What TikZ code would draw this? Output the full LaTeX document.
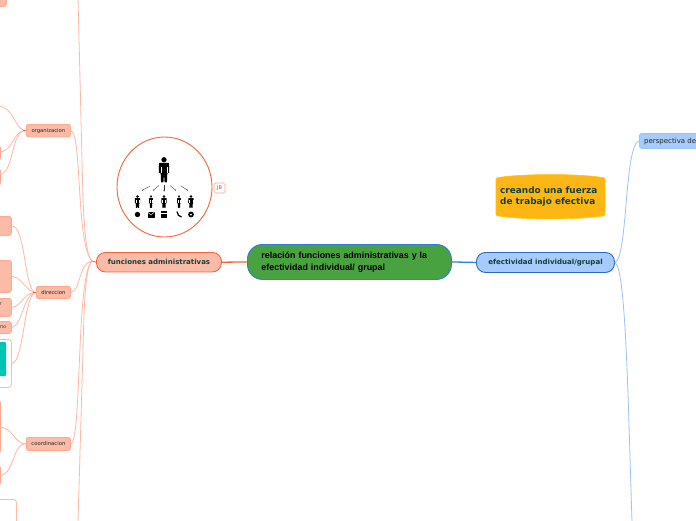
\documentclass[tikz,border=0pt]{standalone}
\usepackage{fontspec}
\usetikzlibrary{arrows.meta,shapes.geometric}
\setmainfont{DejaVu Sans}
\newfontfamily\lib{Liberation Sans}
\definecolor{salL}{HTML}{FFB8A3}
\definecolor{salS}{HTML}{F4643C}
\definecolor{salF}{HTML}{FBBBA7}
\definecolor{salB}{HTML}{FFA88F}
\definecolor{bluL}{HTML}{9CC2F7}
\definecolor{bluS}{HTML}{2F7FDC}
\definecolor{bluF}{HTML}{A6CBFD}
\definecolor{txt}{HTML}{12403A}
\definecolor{ctr}{HTML}{48A23F}
\definecolor{gold}{HTML}{FDB614}
\definecolor{teal}{HTML}{00C4B4}
\newcommand{\myperson}[4]{%
 \begin{scope}[shift={(#1,#2)},xscale=#3*#4,yscale=#3]
  \fill[black] (0,1.4) circle[radius=1.35];
  \fill[black,rounded corners=0.5] (-2.5,3) -- (2.5,3) -- (2.7,8.2) -- (1.7,8.2) -- (1.5,13) -- (0.3,13) -- (0,8.6) -- (-0.3,13) -- (-1.5,13) -- (-1.7,8.2) -- (-2.7,8.2) -- cycle;
  \draw[white,line width=0.25pt] (-1.6,5) -- (-1.6,8.4) (1.6,5) -- (1.6,8.4);
 \end{scope}}
\tikzset{
 x=1pt,y=-1pt,
 conn/.style={draw=salL,line width=0.8pt},
 bconn/.style={draw=bluL,line width=0.8pt},
 subbox/.style={draw=salB,fill=salF,line width=0.8pt,rounded corners=2pt,inner sep=0pt,text=black!85,font=\fontsize{5.3}{6}\selectfont,anchor=north west},
 leaf/.style={draw=salB,fill=salF,line width=0.8pt,rounded corners=2.5pt,inner sep=0pt,anchor=north west},
 whitebox/.style={draw=salL,fill=white,line width=0.8pt,rounded corners=3pt,inner sep=0pt,anchor=north west},
 small arrow/.style={draw=black!80,line width=0.35pt,-{Stealth[length=1.2pt,width=1.2pt]}},
}
\begin{document}
\begin{tikzpicture}
\useasboundingbox (0,0) rectangle (696,520);
\clip (0,0) rectangle (696,520);
\fill[white] (0,0) rectangle (696,520);
% free ends
\coordinate (upEnd) at (78,-2);
\coordinate (downEnd) at (78,522);
\coordinate (fan) at (92,261);
\coordinate (blueEnd) at (632,522);
\coordinate (orgA) at (-2,106);
\coordinate (orgB) at (-2,152);
\coordinate (orgC) at (-2,175);
\coordinate (cooA) at (-2,427);
\coordinate (cooB) at (-2,476);
% main nodes
\node[draw=bluS,fill=ctr,line width=0.9pt,rounded corners=15pt,minimum height=35pt,text width=176pt,inner xsep=14pt,inner ysep=0pt,align=left,anchor=north west,font=\lib\bfseries\fontsize{8.9}{12.4}\selectfont,text=black] (ctrn) at (247,244) {relación funciones administrativas y la\\efectividad individual/ grupal};
\node[draw=salS,fill=salF,line width=0.9pt,rounded corners=9pt,minimum width=125pt,minimum height=19.5pt,inner sep=0pt,anchor=north west,font=\bfseries\fontsize{7}{8}\selectfont,text=txt] (fa) at (96,252) {funciones administrativas};
\node[draw=bluS!85!black,fill=bluF,line width=0.9pt,rounded corners=9pt,minimum width=138pt,minimum height=20pt,inner sep=0pt,anchor=north west,font=\bfseries\fontsize{7.05}{8}\selectfont,text=txt] (ef) at (476,252) {efectividad individual/grupal};
\node[draw=bluL,fill=bluF,line width=0.8pt,rounded corners=2.5pt,minimum width=90pt,minimum height=15pt,inner sep=0pt,anchor=north west] (pe) at (639,133) {};
\node[anchor=west,inner sep=0pt,font=\fontsize{7}{8}\selectfont,text=black!85] (pet) at (644,141.5) {perspectiva de};
\node[subbox,minimum width=44pt,minimum height=12.5pt] (org) at (26,124) {organizacion};
\node[subbox,minimum width=34pt,minimum height=12pt] (dir) at (36,286) {direccion};
\node[subbox,minimum width=44pt,minimum height=13pt] (coo) at (26,437) {coordinacion};
% left-edge leaves
\node[leaf,minimum width=16pt,minimum height=14pt] (top) at (-10,-8) {};
\node[leaf,minimum width=20pt,minimum height=19pt] (l1) at (-9,216) {};
\node[leaf,minimum width=20pt,minimum height=32pt] (l2) at (-9,260) {};
\node[leaf,minimum width=20pt,minimum height=18pt] (l3) at (-9,298) {};
\node[leaf,minimum width=20pt,minimum height=12pt] (l4) at (-9,321) {};
\node[whitebox,minimum width=20pt,minimum height=48pt] (l5) at (-9,339) {};
\fill[teal,rounded corners=1pt] (-5,342) rectangle (6,376);
\node[anchor=east,inner sep=0pt,font=\fontsize{5}{6}\selectfont,text=black!75] (l3t) at (2,304.5) {r};
\node[anchor=east,inner sep=0pt,font=\fontsize{5}{6}\selectfont,text=black!75] (l4t) at (6.5,327) {mo};
\node[leaf,minimum width=7pt,minimum height=53pt] (c1) at (-7,400) {};
\node[leaf,minimum width=7pt,minimum height=20pt] (c2) at (-7,465) {};
\node[leaf,minimum width=7pt,minimum height=15pt] (o2) at (-7,145) {};
\node[leaf,minimum width=7pt,minimum height=17pt] (o3) at (-7,168) {};
\node[whitebox,minimum width=26pt,minimum height=40pt] (wb) at (-10,499) {};
% connectors: central
\draw[salS,line width=1.3pt] (fa.east) -- (ctrn.west);
\draw[bluS,line width=1.3pt] (ctrn.east) -- (ef.west);
% fan from funciones
\draw[salS,line width=0.9pt] (fa.west) -- (fan);
\draw[conn] (fan) .. controls (85,255) and (84,215) .. (83,200) -- (upEnd);
\draw[conn] (fan) .. controls (85,267) and (84,310) .. (83,350) -- (downEnd);
\draw[conn] (org.east) .. controls (82,132) and (76,245) .. (fan);
\draw[conn] (coo.east) .. controls (82,441) and (76,275) .. (fan);
\draw[conn] (dir.east) .. controls (81,292) and (78,263) .. (fan);
% organizacion children
\draw[conn] (org.west) .. controls (14,130) and (15,107) .. (orgA);
\draw[conn] (org.west) .. controls (12,130) and (15,152) .. (orgB);
\draw[conn] (org.west) .. controls (10,130) and (15,175) .. (orgC);
% direccion children
\draw[conn] (dir.west) .. controls (24,292) and (26,226) .. (l1.east);
\draw[conn] (dir.west) .. controls (26,292) and (22,277) .. (l2.east);
\draw[conn] (dir.west) .. controls (24,292) and (22,306) .. (l3.east);
\draw[conn] (dir.west) .. controls (24,292) and (22,327) .. (l4.east);
\draw[conn] (dir.west) .. controls (24,292) and (24,363) .. (l5.east);
\draw[salS,line width=0.7pt] (dir.west) -- ++(-3,0);
\draw[salS,line width=0.7pt] (org.west) -- ++(-3,0);
% coordinacion children
\draw[conn] (coo.west) .. controls (13,443) and (14,427) .. (cooA);
\draw[conn] (coo.west) .. controls (12,443) and (15,476) .. (cooB);
% blue
\draw[bconn] (ef.east) .. controls (628,258) and (624,146) .. (pe.west);
\draw[bconn] (ef.east) .. controls (626,268) and (628,400) .. (blueEnd);
% circle image
\node[draw=salS,fill=white,line width=0.9pt,ellipse,minimum width=95pt,minimum height=100pt,inner sep=0pt] (img) at (164.5,187) {};
\node[draw=salB,line width=0.7pt,rounded corners=1.5pt,fill=white,minimum width=11pt,minimum height=10pt,inner sep=0pt,font=\fontsize{5}{6}\selectfont,text=black!60] (jb) at (219.5,188) {JB};
\myperson{164}{157}{1.95}{1}
\myperson{137.5}{195}{1}{1}
\myperson{151}{195}{1}{0.7}
\myperson{164}{195}{1}{1}
\myperson{179}{195}{1}{0.7}
\myperson{191}{195}{1}{1.05}
\draw[small arrow] (150,186) -- (142,190.5);
\draw[small arrow] (159,185.5) -- (153,190.5);
\draw[small arrow] (164,185) -- (164,191.5);
\draw[small arrow] (170,185.5) -- (176,190.5);
\draw[small arrow] (181,186) -- (188,190.5);
% small icons
\fill[black] (137.5,214.5) circle[radius=2.7];
\fill[black] (147.5,212) rectangle (154.5,217.5);
\draw[white,line width=0.4pt] (147.5,212) -- (151,215) -- (154.5,212);
\fill[black] (161,211) rectangle (167,217.5);
\draw[white,line width=0.4pt] (161,213) -- (167,213);
\draw[black,line width=1.2pt] (177,211.5) .. controls (177.3,214.5) and (178.8,216.5) .. (181.5,217);
\fill[black] (191,214.5) circle[radius=2.9];
\fill[white] (191,214.5) circle[radius=1];
% gold shape
\path[draw=gold!80!yellow,fill=gold,line width=0.6pt,rounded corners=1pt] (496,178) .. controls (520,173.5) and (581,173.5) .. (605,178) -- (605,215.5) .. controls (581,220) and (520,220) .. (496,215.5) -- cycle;
\node[anchor=west,inner sep=0pt,align=left,font=\bfseries\fontsize{8.9}{11}\selectfont,text=txt] (gt) at (500,197) {creando una fuerza\\de trabajo efectiva};
\end{tikzpicture}
\end{document}
